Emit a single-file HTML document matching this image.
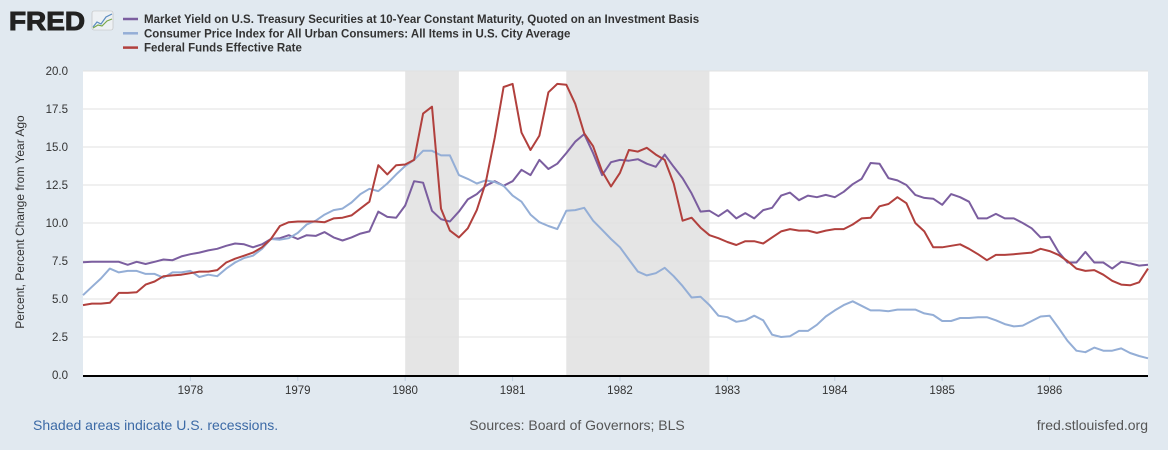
<!DOCTYPE html>
<html><head><meta charset="utf-8">
<style>
body{margin:0;width:1168px;height:450px;background:#e1e9f0;font-family:"Liberation Sans",sans-serif;overflow:hidden}
svg{display:block}
</style></head>
<body>
<svg id="c" width="1168" height="450" xmlns="http://www.w3.org/2000/svg">
<g>
<text x="9" y="30" font-size="26" font-weight="bold" fill="#222" stroke="#222" stroke-width="1" font-family="Liberation Sans, sans-serif" textLength="76" lengthAdjust="spacingAndGlyphs">FRED</text>
<rect x="92" y="11" width="21" height="19" rx="2" fill="#eef1f4" stroke="#bbb" stroke-width="0.6"/>
<polyline points="93,27 97,22 101,24 106,17 112,14" fill="none" stroke="#5b8cc0" stroke-width="1.2"/>
<polyline points="93,28 98,25 102,26 107,21 112,19" fill="none" stroke="#7aa84a" stroke-width="1.2"/>
</g>
<g id="legend"></g>
<rect x="83" y="71" width="1065" height="304" fill="#fff"/>
<g id="rec"></g><g id="grid"></g><g id="series"></g><g id="axes"></g>
<text transform="translate(24,222) rotate(-90)" text-anchor="middle" font-size="12" fill="#333">Percent, Percent Change from Year Ago</text>
<text x="33" y="430" font-size="14" fill="#3c6aa6">Shaded areas indicate U.S. recessions.</text>
<text x="577" y="430" font-size="14" fill="#555" text-anchor="middle">Sources: Board of Governors; BLS</text>
<text x="1148" y="430" font-size="14" fill="#555" text-anchor="end">fred.stlouisfed.org</text>
</svg>
<script>
const yTicks=[0,2.5,5,7.5,10,12.5,15,17.5,20];
const yearLabels=[1978,1979,1980,1981,1982,1983,1984,1985,1986];
const recessions=[[1980.0,1980.5],[1981.5,1982.833]];
const startYear=1977, nMonths=120;
const treasury10y=[7.42,7.45,7.45,7.45,7.45,7.25,7.45,7.3,7.45,7.6,7.55,7.8,7.95,8.05,8.2,8.3,8.5,8.65,8.6,8.4,8.6,8.95,9.0,9.2,8.95,9.2,9.15,9.4,9.05,8.85,9.05,9.3,9.45,10.75,10.4,10.35,11.15,12.75,12.65,10.8,10.25,10.1,10.75,11.55,11.9,12.45,12.75,12.45,12.75,13.5,13.15,14.15,13.55,13.9,14.6,15.35,15.85,14.6,13.15,14.0,14.15,14.1,14.2,13.9,13.7,14.5,13.7,12.95,11.95,10.75,10.8,10.45,10.85,10.3,10.65,10.3,10.85,11.0,11.8,12.0,11.5,11.8,11.7,11.85,11.7,12.05,12.55,12.9,13.95,13.9,12.95,12.8,12.5,11.85,11.65,11.6,11.2,11.9,11.7,11.4,10.3,10.3,10.6,10.3,10.3,10.0,9.65,9.05,9.1,8.1,7.4,7.4,8.1,7.4,7.4,7.0,7.45,7.35,7.2,7.25];
const cpi=[5.25,5.8,6.35,7.0,6.75,6.85,6.85,6.65,6.65,6.4,6.75,6.75,6.85,6.45,6.6,6.5,7.0,7.4,7.7,7.85,8.3,8.95,8.9,9.0,9.35,9.9,10.15,10.55,10.85,10.95,11.35,11.9,12.25,12.1,12.6,13.2,13.75,14.15,14.75,14.75,14.45,14.45,13.15,12.9,12.6,12.8,12.7,12.45,11.8,11.4,10.55,10.05,9.8,9.6,10.8,10.85,11.0,10.15,9.55,8.95,8.4,7.6,6.8,6.55,6.7,7.05,6.5,5.85,5.1,5.15,4.6,3.9,3.8,3.5,3.6,3.9,3.6,2.65,2.5,2.55,2.9,2.9,3.3,3.85,4.25,4.6,4.85,4.55,4.25,4.25,4.2,4.3,4.3,4.3,4.05,3.95,3.55,3.55,3.75,3.75,3.8,3.8,3.6,3.35,3.2,3.25,3.55,3.85,3.9,3.1,2.25,1.6,1.5,1.8,1.6,1.6,1.75,1.45,1.25,1.1];
const fedFunds=[4.6,4.7,4.7,4.75,5.4,5.4,5.45,5.95,6.15,6.5,6.55,6.6,6.7,6.8,6.8,6.9,7.4,7.65,7.85,8.05,8.4,8.95,9.8,10.05,10.1,10.1,10.1,10.05,10.3,10.35,10.5,10.95,11.4,13.8,13.2,13.8,13.85,14.15,17.2,17.65,10.95,9.5,9.05,9.65,10.85,12.65,15.6,18.95,19.15,15.95,14.8,15.75,18.6,19.15,19.1,17.85,15.9,15.05,13.4,12.4,13.3,14.8,14.7,14.95,14.5,14.15,12.6,10.15,10.35,9.7,9.2,9.0,8.75,8.55,8.8,8.8,8.65,9.05,9.45,9.6,9.5,9.5,9.35,9.5,9.6,9.6,9.9,10.3,10.35,11.1,11.25,11.7,11.3,10.0,9.45,8.4,8.4,8.5,8.6,8.3,7.95,7.55,7.9,7.9,7.95,8.0,8.05,8.3,8.15,7.9,7.5,7.0,6.85,6.9,6.6,6.2,5.95,5.9,6.1,7.0];
const seriesNames=["Market Yield on U.S. Treasury Securities at 10-Year Constant Maturity, Quoted on an Investment Basis","Consumer Price Index for All Urban Consumers: All Items in U.S. City Average","Federal Funds Effective Rate"];
const colors=["#7b5e9f","#94aed6","#b1403d"];

const NS="http://www.w3.org/2000/svg";
const X0=83,X1=1148,Y0=375,Y1=71;
const tEnd=startYear+(nMonths-1)/12;
function xT(t){return X0+(t-startYear)/(tEnd-startYear)*(X1-X0);}
function xI(i){return xT(startYear+i/12);}
function yV(v){return Y0-v/20*(Y0-Y1);}
function mk(tag,attrs,parent){const e=document.createElementNS(NS,tag);for(const k in attrs)e.setAttribute(k,attrs[k]);parent.appendChild(e);return e;}
const rec=document.getElementById('rec'),grid=document.getElementById('grid'),ser=document.getElementById('series'),axes=document.getElementById('axes'),leg=document.getElementById('legend');
recessions.forEach((r,k)=>{const e=mk('rect',{x:xT(r[0]),y:Y1,width:xT(r[1])-xT(r[0]),height:Y0-Y1,fill:'#e5e5e5'},rec);

});
yTicks.forEach(v=>{if(v>0){const l=mk('line',{x1:X0,x2:X1,y1:yV(v),y2:yV(v),stroke:'#e1e1e1','stroke-width':1},grid);

}
const t=mk('text',{x:68,y:yV(v)+4,'text-anchor':'end','font-size':11.5,fill:'#333'},axes);t.textContent=v.toFixed(1);

});
yearLabels.forEach(y=>{const x=xT(y);mk('line',{x1:x,x2:x,y1:Y0,y2:Y0+6,stroke:'#c0d0e0'},axes);
const t=mk('text',{x:x,y:394,'text-anchor':'middle','font-size':11.5,fill:'#333'},axes);t.textContent=y;

});
const ax=mk('line',{x1:X0,x2:X1,y1:Y0+1,y2:Y0+1,stroke:'#000','stroke-width':2},axes);


[treasury10y,cpi,fedFunds].forEach((d,s)=>{const p=mk('polyline',{points:d.map((v,i)=>xI(i).toFixed(1)+','+yV(v).toFixed(1)).join(' '),fill:'none',stroke:colors[s],'stroke-width':2,'stroke-linejoin':'round'},ser);


const ly=23+s*14.3;mk('line',{x1:123,x2:138,y1:ly-4,y2:ly-4,stroke:colors[s],'stroke-width':2.5},leg);
const t=mk('text',{x:144,y:ly,'font-size':11.5,'font-weight':'bold',fill:'#333'},leg);t.textContent=seriesNames[s];

});
</script>
</body></html>
